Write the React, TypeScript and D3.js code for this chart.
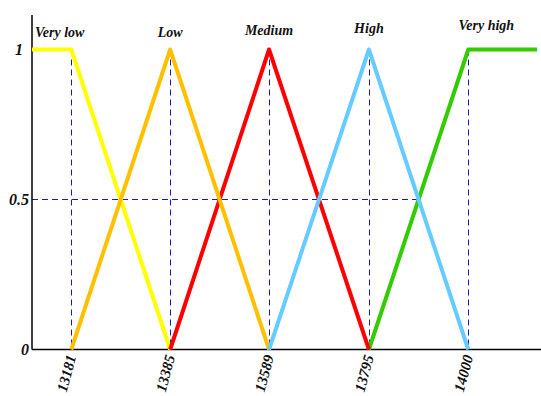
import React from "react";
import * as d3 from "d3";

const W = 541;
const H = 396;

const tickValues = [13181, 13385, 13589, 13795, 14000];
const xDomain = [13100, 14150];
const yTicks = [1, 0.5, 0];
const yTickLabels = ["1", "0.5", "0"];

const categories = ["Very low", "Low", "Medium", "High", "Very high"];
const colors = ["#ffff00", "#ffc000", "#ff0000", "#66ccff", "#33cc00"];

const veryLowX = [13100, 13181, 13385];
const veryLowY = [1, 1, 0];
const lowX = [13181, 13385, 13589];
const lowY = [0, 1, 0];
const mediumX = [13385, 13589, 13795];
const mediumY = [0, 1, 0];
const highX = [13589, 13795, 14000];
const highY = [0, 1, 0];
const veryHighX = [13795, 14000, 14142];
const veryHighY = [0, 1, 1];

const seriesX = [veryLowX, lowX, mediumX, highX, veryHighX];
const seriesY = [veryLowY, lowY, mediumY, highY, veryHighY];
const drawOrder = [0, 4, 2, 1, 3];

// layout-only offsets for the category labels
const labelAnchor = ["start", "middle", "middle", "middle", "middle"];
const labelDx = [3, 0, 0, 0, 18];
const labelBaseline = [37, 37, 35, 33, 30];

const FONT = "'Liberation Serif', 'DejaVu Serif', serif";
const GUIDE = "#1a1ab8";

export default function App() {
  const x = d3.scaleLinear().domain(xDomain).range([32, 541]);
  const y = d3.scaleLinear().domain([0, 1]).range([349.5, 49.5]);
  const line = d3
    .line<[number, number]>()
    .x((d) => x(d[0]))
    .y((d) => y(d[1]));

  const peakX = seriesX.map((xs, i) => xs[seriesY[i].indexOf(1)]);
  const halfCrossRight = (highX[1] + veryHighX[1]) / 2;
  const crisp = (v: number) => Math.round(v) + 0.5;

  return (
    <svg
      width={W}
      height={H}
      style={{ position: "absolute", left: 0, top: 0, background: "#fff" }}
      fontFamily={FONT}
    >
      <rect width={W} height={H} fill="#fff" />
      {/* dashed guides */}
      {tickValues.map((v) => (
        <line
          key={"v" + v}
          x1={crisp(x(v))}
          x2={crisp(x(v))}
          y1={y(1)}
          y2={y(0)}
          stroke={GUIDE}
          strokeWidth={1}
          strokeDasharray="6,4"
        />
      ))}
      <line
        x1={x(xDomain[0])}
        x2={x(halfCrossRight)}
        y1={y(0.5)}
        y2={y(0.5)}
        stroke={GUIDE}
        strokeWidth={1}
        strokeDasharray="6,4"
      />
      {/* axes */}
      <line x1={32} x2={32} y1={15} y2={y(0)} stroke="#000" strokeWidth={1.5} />
      <line x1={32} x2={W} y1={y(0)} y2={y(0)} stroke="#000" strokeWidth={1.5} />
      {/* series */}
      {drawOrder.map((i) => (
        <path
          key={categories[i]}
          d={line(seriesX[i].map((v, k) => [v, seriesY[i][k]] as [number, number])) || ""}
          fill="none"
          stroke={colors[i]}
          strokeWidth={4}
          strokeLinejoin="round"
        />
      ))}
      {/* category labels */}
      {categories.map((c, i) => (
        <text
          key={"l" + c}
          x={x(peakX[i]) + labelDx[i]}
          y={labelBaseline[i]}
          textAnchor={labelAnchor[i]}
          fontSize={14}
          fontWeight="bold"
          fontStyle="italic"
          fill="#111"
        >
          {c}
        </text>
      ))}
      {/* y tick labels */}
      {yTicks.map((t, i) => (
        <text
          key={"y" + t}
          x={t === 1 ? 23 : 29}
          y={y(t) + 5}
          textAnchor="end"
          fontSize={16}
          fontWeight="bold"
          fontStyle="italic"
          fill="#111"
        >
          {yTickLabels[i]}
        </text>
      ))}
      {/* x tick labels */}
      {tickValues.map((v) => (
        <text
          key={"x" + v}
          transform={`translate(${x(v) + 5},${y(0) + 7}) rotate(-75)`}
          textAnchor="end"
          fontSize={15}
          fontWeight="bold"
          fontStyle="italic"
          fill="#111"
        >
          {v}
        </text>
      ))}
    </svg>
  );
}
